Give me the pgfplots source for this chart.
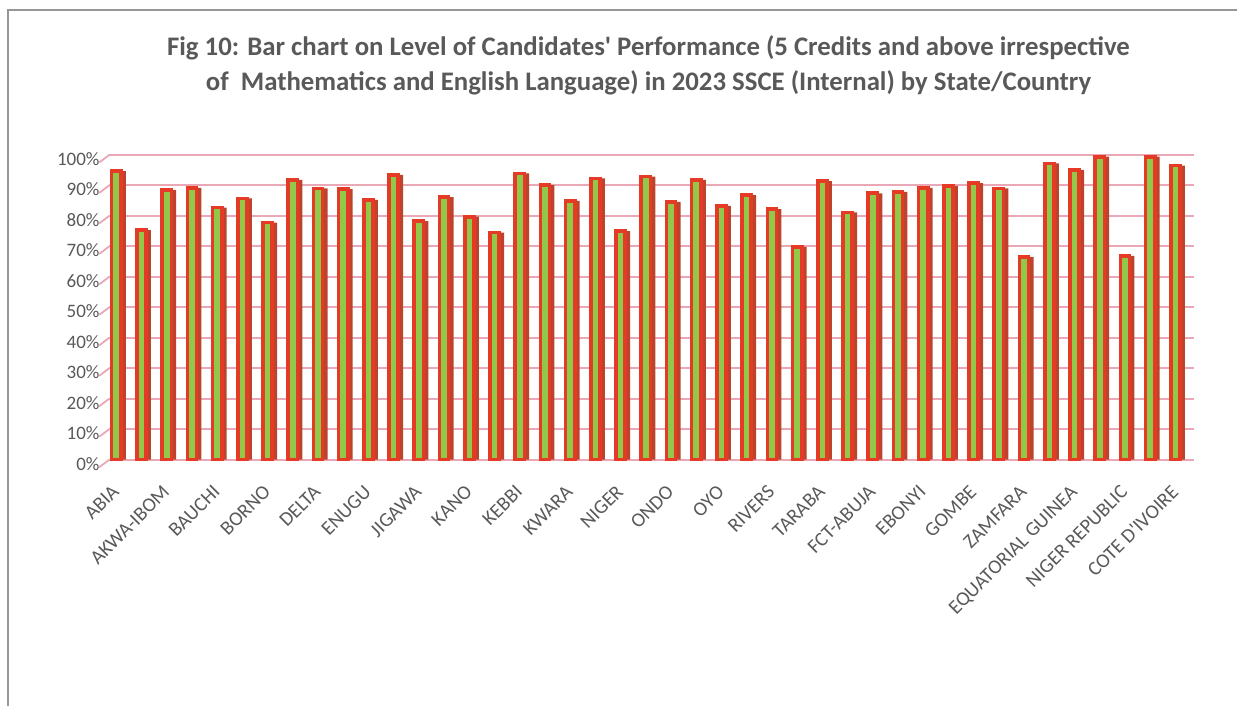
\documentclass[border=0pt]{standalone}
\usepackage{fontspec}
\setmainfont{Carlito}
\usepackage{pgfplots}
\usepackage{pgfplotstable}
\pgfplotsset{compat=1.18}
\definecolor{barg}{RGB}{146,200,74}
\definecolor{barr}{RGB}{228,58,38}
\definecolor{bars}{RGB}{188,68,44}
\definecolor{gridc}{RGB}{234,168,182}
\definecolor{txt}{RGB}{89,89,89}
\definecolor{framec}{RGB}{150,150,150}
\pgfplotstableread{
x y
0 94.7
1 75.3
2 88.5
3 89.2
4 82.7
5 85.7
6 77.8
7 91.8
8 89.0
9 88.8
10 85.2
11 93.4
12 78.3
13 86.1
14 79.7
15 74.5
16 93.9
17 90.1
18 84.9
19 92.3
20 75.0
21 92.9
22 84.6
23 91.8
24 83.3
25 86.8
26 82.2
27 69.8
28 91.4
29 81.1
30 87.4
31 87.9
32 89.2
33 89.8
34 90.7
35 89.0
36 66.5
37 97.2
38 95.1
39 99.4
40 66.9
41 99.4
42 96.5
}\data
\begin{document}
\begin{tikzpicture}
\path (0pt,0pt) rectangle (619pt,353.5pt);
\draw[framec, line width=1pt] (4pt,0pt) -- (4pt,348.5pt) -- (619pt,348.5pt);
\node[txt, font=\bfseries\fontsize{13.4}{17.5}\selectfont, align=center] at (324.5pt,321pt)
 {Fig 10: Bar chart on Level of Candidates\textquotesingle\ Performance (5 Credits and above irrespective\\
 of\ \ Mathematics and English Language) in 2023 SSCE (Internal) by State/Country};
\begin{axis}[at={(54.7pt,123.5pt)}, anchor=south west, scale only axis,
  width=542.6pt, height=152.5pt,
  xmin=-0.3, xmax=42.7, ymin=0, ymax=100,
  clip=false,
  axis line style={draw=none},
  major tick length=0pt,
  ytick={0,10,...,100},
  yticklabels={0\%,10\%,20\%,30\%,40\%,50\%,60\%,70\%,80\%,90\%,100\%},
  ymajorgrids, grid style={gridc, line width=0.9pt},
  yticklabel style={anchor=east, inner sep=0pt, xshift=-4.7pt, yshift=-2pt, txt, font=\fontsize{9.5}{11}\selectfont},
  xtick={0,2,...,42},
  xticklabels={ABIA,AKWA-IBOM,BAUCHI,BORNO,DELTA,ENUGU,JIGAWA,KANO,KEBBI,KWARA,NIGER,ONDO,OYO,RIVERS,TARABA,FCT-ABUJA,EBONYI,GOMBE,ZAMFARA,EQUATORIAL GUINEA,NIGER REPUBLIC,COTE D\textquotesingle IVOIRE},
  xticklabel style={xshift=-3pt, yshift=-12pt, rotate=45, anchor=north east, inner sep=0pt, txt, font=\fontsize{10}{12}\selectfont},
]
\pgfplotsinvokeforeach{0,10,...,100}{\draw[gridc, line width=0.9pt] (axis cs:-0.7,#1-2.5) -- (axis cs:-0.3,#1);}
\addplot[ybar, bar width=6.5pt, bar shift=1.2pt, fill=bars, draw=none] table[x=x,y=y]{\data};
\addplot[ybar, bar width=4.6pt, bar shift=-0.3pt, fill=barg, draw=barr, line width=1.8pt] table[x=x,y=y]{\data};
\end{axis}
\end{tikzpicture}
\end{document}
